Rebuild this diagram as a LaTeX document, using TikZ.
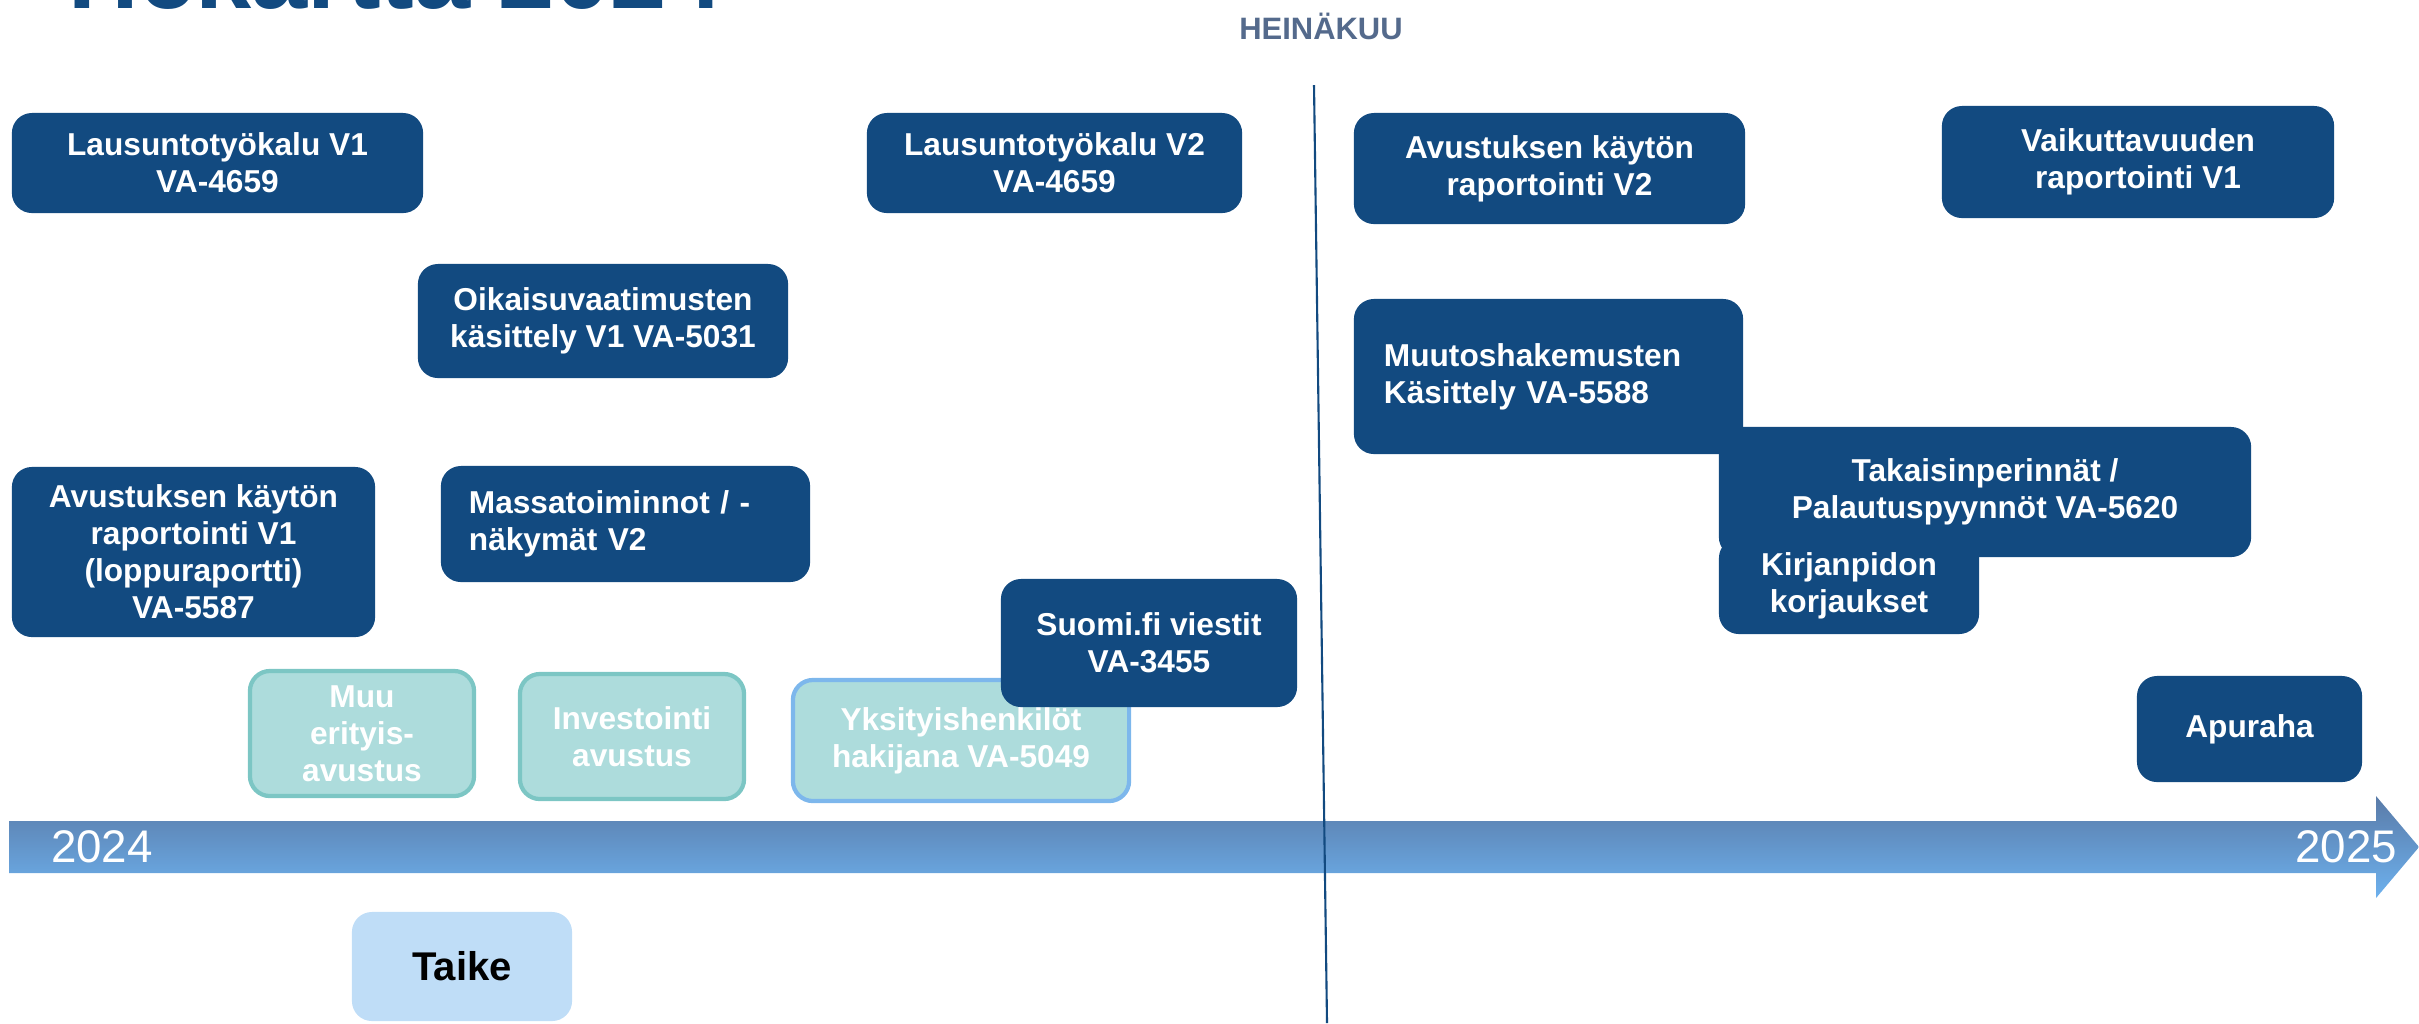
\documentclass[tikz,border=0pt]{standalone}
\usepackage{fontspec}
\setmainfont{Liberation Sans}
\definecolor{roadblue}{HTML}{124A80}
\definecolor{monthgray}{HTML}{546A8C}
\definecolor{tealfill}{HTML}{ADDCDC}
\definecolor{tealline}{HTML}{7CC6C4}
\definecolor{skyline}{HTML}{7DB7EC}
\definecolor{taikefill}{HTML}{BFDDF7}
\definecolor{arrowtop}{HTML}{5A7BA8}
\definecolor{arrowbot}{HTML}{6DB1EE}
\begin{document}
\begin{tikzpicture}[x=0.01cm, y=-0.01cm,
        darkbox/.style={fill=roadblue, rounded corners=0.2cm, text=white,
          font=\bfseries\fontsize{9}{10.5}\selectfont, align=center, inner sep=0pt},
        lightbox/.style={fill=tealfill, draw=tealline, line width=1.2pt, rounded corners=0.2cm,
          text=white, font=\bfseries\fontsize{9}{10.5}\selectfont, align=center, inner sep=0pt},
        yearlabel/.style={text=white, font=\fontsize{13}{13}\selectfont, inner sep=0pt}]
        \useasboundingbox (0,0) rectangle (2419,1023);
        % Title (cut by the page top) and month
        \node[anchor=base west, inner sep=0pt, text=roadblue,
          font=\bfseries\fontsize{28.7}{30}\selectfont] (title) at (51,8) {Tiekartta 2024};
        \node[text=monthgray, font=\bfseries\fontsize{8.8}{10}\selectfont] (month) at (1321,26) {HEINÄKUU};

        % Time arrow
        \coordinate (a1) at (9,821);
        \coordinate (a2) at (2376,821);
        \coordinate (a3) at (2376,796);
        \coordinate (tip) at (2419,847);
        \coordinate (a4) at (2376,898);
        \coordinate (a5) at (2376,873);
        \coordinate (a6) at (9,873);
        \shade[top color=arrowtop, bottom color=arrowbot] (a1)--(a2)--(a3)--(tip)--(a4)--(a5)--(a6)--cycle;
        \node[yearlabel] (y24) at (102,847) {2024};
        \node[yearlabel] (y25) at (2346,847) {2025};

        % July marker
        \coordinate (jtop) at (1314,85);
        \coordinate (jbot) at (1327,1023);
        \draw[roadblue, line width=0.6pt] (jtop)--(jbot);

        % First half
        \node[darkbox, minimum width=4.11cm, minimum height=1.00cm] (lv1) at (217.5,163) {Lausuntotyökalu V1\\VA-4659};
        \node[darkbox, minimum width=3.75cm, minimum height=1.00cm] (lv2) at (1054.5,163) {Lausuntotyökalu V2\\VA-4659};
        \node[darkbox, minimum width=3.70cm, minimum height=1.14cm] (oik) at (603,321) {Oikaisuvaatimusten\\käsittely V1 VA-5031};
        \node[darkbox, minimum width=3.63cm, minimum height=1.70cm] (akr1) at (193.5,552) {Avustuksen käytön\\raportointi V1\\(loppuraportti)\\VA-5587};
        \node[darkbox, minimum width=3.69cm, minimum height=1.16cm, text width=3.13cm, align=left] (massa) at (625.5,524) {Massatoiminnot / -\\näkymät V2};
        \node[lightbox, minimum width=2.24cm, minimum height=1.25cm] (muu) at (362,733.5) {Muu\\erityis-\\avustus};
        \node[lightbox, minimum width=2.24cm, minimum height=1.25cm] (inv) at (632,736.5) {Investointi\\avustus};
        \node[lightbox, draw=skyline, minimum width=3.36cm, minimum height=1.21cm] (yks) at (961,740.5) {Yksityishenkilöt\\hakijana VA-5049};
        \node[darkbox, minimum width=2.96cm, minimum height=1.28cm] (suomi) at (1149,643) {Suomi.fi viestit\\VA-3455};
        \node[fill=taikefill, rounded corners=0.2cm, inner sep=0pt, minimum width=2.20cm, minimum height=1.09cm,
          font=\bfseries\fontsize{11.4}{12}\selectfont] (taike) at (462,966.5) {Taike};

        % Second half
        \node[darkbox, minimum width=3.91cm, minimum height=1.11cm] (akr2) at (1549.5,168.5) {Avustuksen käytön\\raportointi V2};
        \node[darkbox, minimum width=3.92cm, minimum height=1.12cm] (vaik) at (2138,162) {Vaikuttavuuden\\raportointi V1};
        \node[darkbox, minimum width=3.89cm, minimum height=1.55cm, text width=3.29cm, align=left] (muutos) at (1548.5,376.5) {Muutoshakemusten\\Käsittely VA-5588};
        \node[darkbox, minimum width=5.32cm, minimum height=1.30cm] (tak) at (1985,492) {Takaisinperinnät /\\Palautuspyynnöt VA-5620};
        \node[darkbox, minimum width=2.60cm, minimum height=0.96cm] (kirj) at (1849,586) {Kirjanpidon\\korjaukset};
        \node[darkbox, minimum width=2.25cm, minimum height=1.06cm] (apu) at (2249.5,729) {Apuraha};
\end{tikzpicture}
\end{document}
